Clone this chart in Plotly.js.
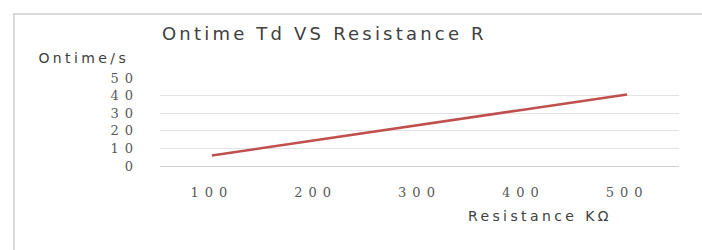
<!DOCTYPE html>
<html>
<head>
<meta charset="utf-8">
<script src="https://cdn.plot.ly/plotly-3.0.1.min.js"></script>
<style>
  html, body { margin: 0; padding: 0; background: #fff; }
  #frame { position: absolute; left: 13px; top: 13px; width: 720px; height: 260px;
           border-left: 2px solid #d9d9d9; border-top: 2px solid #d9d9d9; }
  #chart { position: absolute; left: 0; top: 0; width: 702px; height: 250px; }
  #chart .gtitle { letter-spacing: 3.2px; }
  #chart .annotation-text { letter-spacing: 3.4px; }
  #chart .xtick text, #chart .ytick text { letter-spacing: 6px; }
</style>
</head>
<body>
<div id="frame"></div>
<div id="chart"></div>
<script>
const resistance = ['100', '200', '300', '400', '500'];
const ontime = [6, 14.8, 23.4, 32, 40.6];
const yTicks = [0, 10, 20, 30, 40, 50];

const W = 702, H = 250;
const L = 160, R = 23, T = 78, B = 84;
const pw = W - L - R, ph = H - T - B;
const px = x => (x - L) / pw;
const py = y => 1 - (y - T) / ph;

const sansFont = { family: 'DejaVu Sans, sans-serif', size: 14, color: '#404040' };
const numFont = { family: 'DejaVu Serif, serif', size: 13, color: '#595959' };

const trace = {
  type: 'scatter', mode: 'lines',
  x: resistance, y: ontime,
  line: { color: '#c0504d', width: 2.6 },
  hoverinfo: 'skip'
};

const layout = {
  width: W, height: H,
  margin: { l: L, r: R, t: T, b: B, pad: 0 },
  paper_bgcolor: 'rgba(0,0,0,0)',
  plot_bgcolor: 'rgba(0,0,0,0)',
  showlegend: false,
  title: {
    text: 'Ontime Td VS Resistance R',
    font: { family: 'DejaVu Sans, sans-serif', size: 18, color: '#404040' },
    xref: 'container', yref: 'container',
    x: 162 / W, xanchor: 'left',
    y: 1 - 34 / H, yanchor: 'middle'
  },
  xaxis: {
    type: 'category',
    range: [-0.5, 4.5],
    showgrid: false,
    showline: true, linecolor: '#d0d0d0', linewidth: 1,
    ticks: '', tickfont: numFont,
    ticklabelstandoff: 14,
    fixedrange: true
  },
  yaxis: {
    range: [0, 50],
    tickvals: yTicks,
    showgrid: true, gridcolor: '#e3e3e3', gridwidth: 1,
    zeroline: false, showline: false,
    ticks: '', tickfont: numFont,
    ticklabelstandoff: 20,
    fixedrange: true
  },
  annotations: [
    { text: 'Ontime/s', xref: 'paper', yref: 'paper', x: px(50), y: py(57.5),
      xanchor: 'left', yanchor: 'middle', showarrow: false, font: sansFont },
    { text: 'Resistance KΩ', xref: 'paper', yref: 'paper', x: px(488), y: py(216),
      xanchor: 'left', yanchor: 'middle', showarrow: false, font: sansFont }
  ]
};

Plotly.newPlot('chart', [trace], layout, { displayModeBar: false, staticPlot: true });
</script>
</body>
</html>
